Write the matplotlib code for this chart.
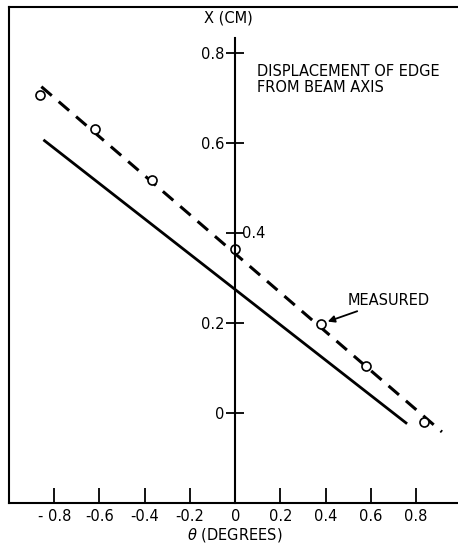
import numpy as np
import matplotlib.pyplot as plt

# measured edge displacement vs. angle
theta_meas = [-0.865, -0.618, -0.366, 0.0, 0.38, 0.578, 0.834]
x_meas = [0.708, 0.632, 0.519, 0.366, 0.199, 0.106, -0.02]

# fitted (dashed) and computed (solid) lines, given by their end points
theta_fit = [-0.857, 0.914]
x_fit = [0.726, -0.041]
theta_calc = [-0.843, 0.755]
x_calc = [0.606, -0.021]

xticks = [-0.8, -0.6, -0.4, -0.2, 0, 0.2, 0.4, 0.6, 0.8]
xticklabels = ["- 0.8", "-0.6", "-0.4", "-0.2", "0", "0.2", "0.4", "0.6", "0.8"]
yticks = [0, 0.2, 0.4, 0.6, 0.8]
yticklabels = ["0", "0.2", "", "0.6", "0.8"]

plt.rcParams['font.family'] = ['DejaVu Sans']
W, H = 458, 546
fig = plt.figure(figsize=(W / 100, H / 100), dpi=100)
pos = [9 / W, 1 - 503 / H, 1 - 9 / W, (503 - 7) / H]

# outer frame (left, top, bottom)
fr = fig.add_axes(pos)
fr.set_xticks([])
fr.set_yticks([])
fr.spines['right'].set_visible(False)
for s in ['left', 'top', 'bottom']:
    fr.spines[s].set_linewidth(1.5)

ax = fig.add_axes(pos)
ax.patch.set_alpha(0)
ax.set_xlim(-1.0, 0.985)
ax.set_ylim(-0.199, 0.903)
ax.spines['top'].set_visible(False)
ax.spines['right'].set_visible(False)
ax.spines['bottom'].set_visible(False)
ax.spines['left'].set_position(('data', 0))
ax.spines['left'].set_bounds(-0.199, 0.834)
ax.spines['left'].set_linewidth(1.5)

ax.set_yticks(yticks)
ax.set_yticklabels(yticklabels)
ax.tick_params(axis='y', direction='inout', length=13, width=1.3,
               labelsize=10.5, pad=1)
ax.text(0.03, 0.4, "0.4", fontsize=10.5, ha='left', va='center')

ax.set_xticks(xticks)
ax.set_xticklabels(xticklabels)
ax.tick_params(axis='x', direction='in', length=11, width=1.3,
               labelsize=10.5, pad=4)
ax.xaxis.set_ticks_position('bottom')
fig.text(235 / W, 1 - 535 / H, r"$\theta$ (DEGREES)", fontsize=10.5,
         ha='center', va='center')

ax.plot(theta_fit, x_fit, color='black', lw=2.2, ls=(0, (4.5, 3)))
ax.plot(theta_calc, x_calc, color='black', lw=2.0)
ax.plot(theta_meas, x_meas, ls='none', marker='o', ms=6.5,
        mfc='white', mec='black', mew=1.2)

ax.text(-0.03, 0.879, "X (CM)", fontsize=10.5, ha='center', va='center')
ax.text(0.097, 0.742, "DISPLACEMENT OF EDGE\nFROM BEAM AXIS", fontsize=10.5,
        ha='left', va='center', linespacing=1.1)
ax.annotate("MEASURED", xy=(0.38, 0.199), xytext=(0.499, 0.252),
            fontsize=10.5, ha='left', va='center',
            arrowprops=dict(arrowstyle='-|>', color='black', lw=1.3,
                            shrinkA=2, shrinkB=5, mutation_scale=10))

fig.savefig("out.png", dpi=100)
